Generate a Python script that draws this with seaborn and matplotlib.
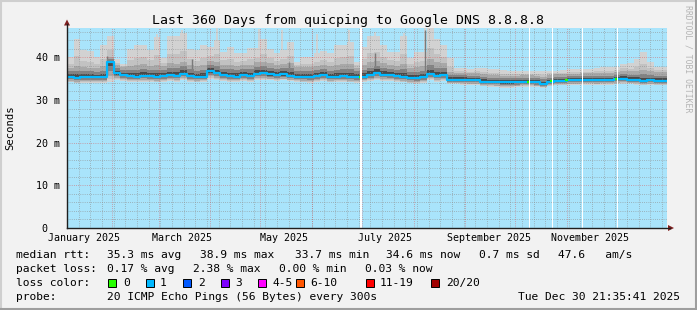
import numpy as np
import pandas as pd
import matplotlib
matplotlib.use("Agg")
import matplotlib.pyplot as plt
import seaborn as sns
from matplotlib.patches import Rectangle, Polygon
from matplotlib.lines import Line2D
from matplotlib.transforms import ScaledTranslation

W, H = 697, 310

# ---------------- data (4-day steps starting 2025-01-05) ----------------
median_ms = [35.4, 35.2, 35.3, 35.3, 35.3, 35.3, 38.9, 36.3, 35.8, 35.6,
             35.5, 35.7, 35.6, 35.4, 35.6, 35.8, 35.7, 36.2, 35.6, 35.4,
             35.5, 36.7, 36.3, 35.8, 35.6, 35.5, 35.8, 35.6, 36.2, 36.3,
             36.0, 35.8, 36.0, 35.7, 35.5, 35.4, 35.3, 35.6, 35.8, 35.4,
             35.5, 35.6, 35.4, 35.3, 35.5, 35.8, 36.3, 35.9, 35.8, 35.6,
             35.4, 35.2, 35.1, 35.3, 36.1, 35.7, 35.8, 34.8, 34.8, 34.8,
             34.7, 34.7, 34.3, 34.3, 34.2, 34.1, 34.1, 34.1, 34.2, 34.2,
             34.1, 33.8, 34.3, 34.5, 34.5, 34.6, 34.6, 34.7, 34.7, 34.6,
             34.7, 34.7, 34.9, 35.0, 34.8, 34.7, 34.5, 34.6, 34.5, 34.5]
max_ms = [40.1, 44.4, 41.7, 41.5, 40.0, 43.0, 45.0, 39.5, 38.5, 42.0,
          42.9, 42.9, 41.7, 44.8, 39.8, 45.0, 45.0, 45.8, 42.0, 41.7,
          42.9, 42.5, 44.0, 41.3, 42.5, 40.9, 41.0, 42.1, 42.1, 44.4,
          42.0, 40.9, 41.7, 43.5, 39.0, 40.1, 40.1, 40.9, 41.5, 40.9,
          42.9, 42.9, 43.5, 39.0, 42.5, 45.0, 45.0, 42.9, 41.3, 41.3,
          45.0, 39.8, 41.3, 41.3, 47.0, 44.4, 43.0, 39.8, 37.4, 37.4,
          37.3, 37.5, 37.4, 37.3, 37.2, 37.0, 36.9, 36.8, 36.8, 36.8,
          36.9, 36.8, 36.9, 36.9, 37.0, 37.2, 37.2, 37.2, 37.3, 37.6,
          37.8, 37.8, 37.8, 38.5, 38.6, 39.5, 41.3, 39.0, 37.8, 37.8]
upper_ms = [37.6, 38.0, 37.8, 37.6, 37.5, 37.9, 40.0, 38.2, 37.8, 38.0,
            38.2, 38.4, 38.0, 38.3, 37.9, 38.6, 38.5, 39.0, 38.2, 37.9,
            38.2, 39.2, 39.0, 38.3, 38.2, 37.9, 38.3, 38.2, 38.8, 39.0,
            38.6, 38.2, 38.5, 38.6, 37.8, 37.7, 37.7, 38.0, 38.3, 37.9,
            38.2, 38.4, 38.5, 37.6, 38.1, 38.8, 39.2, 38.6, 38.2, 38.0,
            38.5, 37.6, 37.7, 37.9, 39.5, 38.8, 38.6, 36.6, 36.4, 36.4,
            36.3, 36.3, 36.0, 35.9, 35.8, 35.7, 35.7, 35.7, 35.8, 35.8,
            35.7, 35.5, 35.9, 36.0, 36.1, 36.2, 36.2, 36.3, 36.3, 36.3,
            36.4, 36.4, 36.6, 36.8, 36.7, 36.8, 37.0, 36.8, 36.5, 36.5]
lower_ms = [34.1, 33.9, 34.0, 34.0, 34.0, 34.0, 34.2, 34.6, 34.4, 34.3,
            34.2, 34.3, 34.3, 34.1, 34.3, 34.4, 34.3, 34.7, 34.3, 34.1,
            34.2, 35.0, 34.8, 34.4, 34.3, 34.2, 34.4, 34.3, 34.7, 34.8,
            34.6, 34.4, 34.6, 34.4, 34.2, 34.1, 34.0, 34.2, 34.4, 34.1,
            34.2, 34.3, 34.1, 34.0, 34.2, 34.4, 34.8, 34.5, 34.4, 34.3,
            34.1, 33.9, 33.8, 34.0, 34.6, 34.3, 34.4, 33.7, 33.7, 33.6,
            33.5, 33.5, 33.2, 33.1, 33.0, 32.9, 32.9, 33.0, 33.1, 33.1,
            33.0, 32.8, 33.2, 33.4, 33.4, 33.5, 33.5, 33.6, 33.6, 33.5,
            33.6, 33.6, 33.7, 33.8, 33.7, 33.6, 33.4, 33.5, 33.4, 33.4]

spike_dates = ['2025-02-28', '2025-03-15', '2025-04-05', '2025-04-30', '2025-05-14',
               '2025-06-04', '2025-06-23', '2025-07-09', '2025-07-26', '2025-08-08',
               '2025-08-10']
spike_tops = [45.5, 46.5, 47.0, 46.6, 46.5, 45.5, 46.5, 46.0, 45.8, 47.5, 47.0]
dark_spike_dates = ['2025-01-29', '2025-03-21', '2025-05-18', '2025-07-09', '2025-08-08']
dark_spike_tops = [40.2, 39.5, 38.8, 41.0, 46.5]

gap_dates = ['2025-06-30', '2025-10-09', '2025-10-23', '2025-11-10', '2025-12-01']
green_dates = ['2025-06-29', '2025-10-08', '2025-10-22', '2025-10-31', '2025-11-30']
green_ms = [35.3, 34.2, 34.4, 34.6, 35.0]

ytick_vals = [0, 10, 20, 30, 40]
ytick_labels = ['0', '10 m', '20 m', '30 m', '40 m']
xlabel_dates = ['2025-01-15', '2025-03-15', '2025-05-15', '2025-07-15', '2025-09-15', '2025-11-15']
xlabel_texts = ['January 2025', 'March 2025', 'May 2025', 'July 2025', 'September 2025', 'November 2025']

loss_labels = ['0', '1', '2', '3', '4-5', '6-10', '11-19', '20/20']
loss_colors = ['#26ff00', '#00b8ff', '#0059ff', '#7e00ff', '#ff00ff', '#ff5500', '#ff0000', '#a00000']

title = 'Last 360 Days from quicping to Google DNS 8.8.8.8'
row1 = ['median rtt:', '35.3 ms avg', '38.9 ms max', '33.7 ms min', '34.6 ms now', '0.7 ms sd', '47.6   am/s']
row2 = ['packet loss:', '0.17 % avg', '2.38 % max', '0.00 % min', '0.03 % now']
row4 = ['probe:', '20 ICMP Echo Pings (56 Bytes) every 300s']
stamp = 'Tue Dec 30 21:35:41 2025'

# ---------------- figure ----------------
MONO = 'DejaVu Sans Mono'
plt.rcParams['font.family'] = [MONO]
BG = '#f2f2f2'
CANVAS = '#a9e4fb'
fig = plt.figure(figsize=(W / 100, H / 100), dpi=100, facecolor=BG)


def fx(x):
    return x / W


def fy(y):
    return 1 - y / H


ax = fig.add_axes([fx(67), fy(228), 600 / W, 200 / H])
ax.set_facecolor(CANVAS)

start = pd.Timestamp('2025-01-05')
end = start + pd.Timedelta(days=360)
dates = pd.date_range(start, periods=len(median_ms), freq='4D')
dates_ext = dates.append(pd.DatetimeIndex([end]))


def ext(a):
    a = np.asarray(a, dtype=float)
    return np.append(a, a[-1])


md = ext(median_ms)
hi = ext(max_ms)
up = ext(upper_ms)
lo = ext(lower_ms)

# smoke layers (light outside -> dark near the median)
ax.fill_between(dates_ext, lo, hi, step='post', color='#d2d2d2', lw=0, zorder=2)
ax.vlines(pd.to_datetime(spike_dates), 38, spike_tops, color='#d2d2d2', lw=1.3, zorder=2.1)
ax.fill_between(dates_ext, lo + 0.15 * (md - lo), up + 0.35 * (hi - up), step='post',
                color='#c2c2c2', lw=0, zorder=2.15)
ax.fill_between(dates_ext, lo + 0.3 * (md - lo), up, step='post', color='#a8a8a8', lw=0, zorder=2.2)
ax.vlines(pd.to_datetime(dark_spike_dates), 36, dark_spike_tops, color='#7a7a7a', lw=1.0, zorder=2.3)
ax.fill_between(dates_ext, lo + 0.55 * (md - lo), md + 0.6 * (up - md), step='post',
                color='#828282', lw=0, zorder=2.4)
ax.fill_between(dates_ext, lo + 0.8 * (md - lo), md + 0.3 * (up - md), step='post',
                color='#4a4a4a', lw=0, zorder=2.5)

# median line (seaborn)
df = pd.DataFrame({'date': dates_ext, 'median': md})
sns.lineplot(data=df, x='date', y='median', drawstyle='steps-post', color='#00b8ff',
             lw=1.6, ax=ax, zorder=6, estimator=None)
gd = pd.to_datetime(green_dates)
for d, v in zip(gd, green_ms):
    ax.plot([d, d + pd.Timedelta(days=1.3)], [v, v], color='#26ff00', lw=1.6,
            solid_capstyle='butt', zorder=6.2)

# white gaps (unknown data)
for d in pd.to_datetime(gap_dates):
    ax.axvspan(d, d + pd.Timedelta(days=0.8), color='white', lw=0, zorder=6.5)

# grid
GRID = (0.56, 0.56, 0.56, 0.75)
MGRID = (0.87, 0.31, 0.31, 0.6)
dash = (0, (0.72, 1.44))
for v in range(2, 47, 2):
    if v % 10:
        ax.axhline(v, color=GRID, lw=0.72, ls=dash, zorder=5)
for v in (10, 20, 30, 40):
    ax.axhline(v, color=MGRID, lw=0.72, ls=dash, zorder=5.1)
for d in pd.date_range(start + pd.Timedelta(days=7), end, freq='7D'):
    ax.axvline(d, color=GRID, lw=0.72, ls=dash, zorder=5)
for d in pd.date_range('2025-02-01', end, freq='MS'):
    ax.axvline(d, color=MGRID, lw=0.72, ls=dash, zorder=5.1)

ax.set_xlim(start, end)
ax.set_ylim(0, 46.87)
for s in ax.spines.values():
    s.set_visible(False)
ax.set_xlabel('')
ax.set_ylabel('')
ax.set_yticks(ytick_vals)
ax.set_yticklabels(ytick_labels, family=MONO, fontsize=7.2)
ax.set_xticks(pd.to_datetime(xlabel_dates))
ax.set_xticklabels(xlabel_texts, family=MONO, fontsize=7.2)
ax.tick_params(axis='y', length=0, pad=5.4)
ax.tick_params(axis='x', length=0, pad=3.5)
# the "0" label sits two character cells left of the unit column
zero_lab = ax.get_yticklabels()[0]
zero_lab.set_transform(zero_lab.get_transform() + ScaledTranslation(-12 / 100, 0.5 / 100, fig.dpi_scale_trans))

# axis lines and arrows
AXIS = '#1f1f1f'
ARROW = '#801f1f'
fig.add_artist(Line2D([fx(67), fx(67)], [fy(228), fy(24)], color=AXIS, lw=1.0))
fig.add_artist(Line2D([fx(67), fx(670)], [fy(228), fy(228)], color=AXIS, lw=1.0))
fig.add_artist(Polygon([[fx(64), fy(25.5)], [fx(70), fy(25.5)], [fx(67), fy(19.5)]],
                       closed=True, color=ARROW, lw=0))
fig.add_artist(Polygon([[fx(668), fy(225)], [fx(668), fy(231)], [fx(674), fy(228)]],
                       closed=True, color=ARROW, lw=0))

# frame shading
fig.add_artist(Line2D([0, 1], [fy(1), fy(1)], color='#cfcfcf', lw=1.5))
fig.add_artist(Line2D([fx(1), fx(1)], [0, 1], color='#cfcfcf', lw=1.5))
fig.add_artist(Line2D([0, 1], [fy(309), fy(309)], color='#9e9e9e', lw=1.5))
fig.add_artist(Line2D([fx(696), fx(696)], [0, 1], color='#9e9e9e', lw=1.5))

# texts
fig.text(fx(348), fy(24), title, ha='center', va='baseline', fontsize=9.5, family=MONO)
fig.text(fx(10), fy(128), 'Seconds', rotation=90, ha='center', va='center', fontsize=7.6, family=MONO)
fig.text(fx(688), fy(5), 'RRDTOOL / TOBI OETIKER', rotation=270, ha='center', va='top',
         fontsize=5.9, family=MONO, color='#b4b4b4')

LS = 8.1


def lt(x, yb, s, **kw):
    fig.text(fx(x), fy(yb), s, ha=kw.pop('ha', 'left'), va='baseline', fontsize=LS, family=MONO, **kw)


for s, x in zip(row1, [16, 107.3, 200, 295, 386, 479.3, 558.3]):
    lt(x, 258, s)
for s, x in zip(row2, [16, 107.3, 193, 279.3, 365]):
    lt(x, 272, s)
lt(16, 286, 'loss color:')
sq_x = [108, 145.7, 183.3, 221, 258, 296, 365.7, 430.7]
lab_x = [123.5, 160, 198, 235, 272.7, 310, 380, 445.7]
for lab, col, sx, tx in zip(loss_labels, loss_colors, sq_x, lab_x):
    fig.add_artist(Rectangle((fx(sx), fy(286.5)), 8 / W, 8 / H, facecolor=col,
                             edgecolor='black', lw=0.7, transform=fig.transFigure))
    lt(tx, 286, lab)
lt(16, 299.5, row4[0])
lt(107.3, 299.5, row4[1])
lt(680, 299.5, stamp, ha='right')

fig.savefig('out.png', dpi=100, facecolor=BG)
